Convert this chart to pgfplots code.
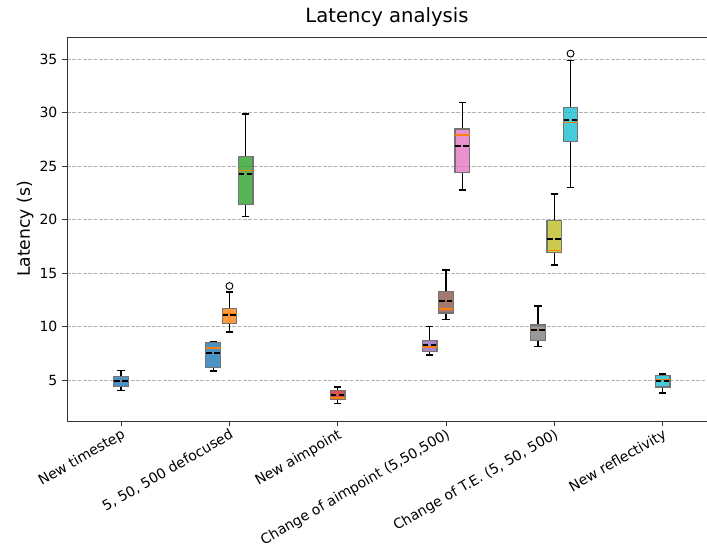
\documentclass[border=0pt]{standalone}
\usepackage{pgfplots}
\pgfplotsset{compat=1.18}
\usepgfplotslibrary{statistics}
\usepackage{fontspec}
\setmainfont{DejaVu Sans}
\definecolor{tBlue}{HTML}{1F77B4}
\definecolor{tOrange}{HTML}{FF7F0E}
\definecolor{tGreen}{HTML}{2CA02C}
\definecolor{tRed}{HTML}{D62728}
\definecolor{tPurple}{HTML}{9467BD}
\definecolor{tBrown}{HTML}{8C564B}
\definecolor{tPink}{HTML}{E377C2}
\definecolor{tGray}{HTML}{7F7F7F}
\definecolor{tOlive}{HTML}{BCBD22}
\definecolor{tCyan}{HTML}{17BECF}
\pgfplotsset{
  bx/.style={
    solid, draw=black!55, line width=0.9pt, fill=#1, fill opacity=0.8,
    mark=o, mark size=2.6pt, mark options={draw=black, fill=none, line width=0.7pt, solid, fill opacity=1},
    boxplot/draw direction=y,
    boxplot/box extend=0.135,
    boxplot/whisker extend=0.068,
    boxplot/every whisker/.style={draw=black, line width=1pt, solid},
    boxplot/every median/.style={draw=tOrange, line width=1.1pt, solid},
    boxplot/draw/average/.code={\draw[draw=black, line width=1.5pt, dash pattern=on 4.1pt off 1.8pt, draw opacity=1]
        (boxplot box cs:\pgfplotsboxplotvalue{average},0.03) -- (boxplot box cs:\pgfplotsboxplotvalue{average},0.97);},
  },
}
\begin{document}
\begin{tikzpicture}
\begin{axis}[
  width=480pt, height=288pt, scale only axis,
  xmin=0.5, xmax=6.41, ymin=1.2, ymax=37.05,
  axis x line*=box, axis y line*=left,
  xtick pos=bottom, ytick pos=left,
  tick align=outside,
  major tick length=3.7pt,
  tick style={black!80, line width=0.6pt},
  axis line style={black!80, line width=0.6pt},
  xtick={1,2,3,4,5,6},
  xticklabels={New timestep, {5, 50, 500 defocused}, New aimpoint, {Change of aimpoint (5,50,500)}, {Change of T.E. (5, 50, 500)}, New reflectivity},
  ytick={5,10,15,20,25,30,35},
  /pgf/number format/assume math mode=true,
  ticklabel style={font=\fontsize{10.5}{12}\selectfont},
  xticklabel style={rotate=30, anchor=north east, inner sep=1pt},
  ymajorgrids,
  grid style={dash pattern=on 2.8pt off 1.2pt, gray!60, line width=0.6pt},
  title={Latency analysis},
  title style={font=\fontsize{14.7}{16}\selectfont, at={(axis description cs:0.5,1)}, anchor=base, yshift=5pt},
  ylabel={Latency (s)},
  every axis y label/.style={at={(axis description cs:-0.0656,0.5)}, rotate=90, anchor=center, font=\fontsize{12.9}{14}\selectfont},
]
% cat 1
\addplot[bx=tBlue, boxplot prepared={draw position=1, lower whisker=4.07, lower quartile=4.44, median=5.0, upper quartile=5.37, upper whisker=5.93, average=4.95}] coordinates {};
% cat 2
\addplot[bx=tBlue, boxplot prepared={draw position=1.85, lower whisker=5.87, lower quartile=6.19, median=8.02, upper quartile=8.52, upper whisker=8.64, average=7.55}] coordinates {};
\addplot[bx=tOrange, boxplot prepared={draw position=2, lower whisker=9.51, lower quartile=10.3, median=11.23, upper quartile=11.7, upper whisker=13.25, average=11.12}] table[row sep=\\, y index=0] {data\\ 13.8\\};
\addplot[bx=tGreen, boxplot prepared={draw position=2.15, lower whisker=20.3, lower quartile=21.38, median=24.6, upper quartile=25.93, upper whisker=29.85, average=24.28}] coordinates {};
% cat 3
\addplot[bx=tRed, boxplot prepared={draw position=3, lower whisker=2.82, lower quartile=3.2, median=3.35, upper quartile=4.07, upper whisker=4.37, average=3.6}] coordinates {};
% cat 4
\addplot[bx=tPurple, boxplot prepared={draw position=3.85, lower whisker=7.37, lower quartile=7.68, median=8.11, upper quartile=8.71, upper whisker=10.05, average=8.33}] coordinates {};
\addplot[bx=tBrown, boxplot prepared={draw position=4, lower whisker=10.67, lower quartile=11.29, median=11.67, upper quartile=13.3, upper whisker=15.3, average=12.41}] coordinates {};
\addplot[bx=tPink, boxplot prepared={draw position=4.15, lower whisker=22.76, lower quartile=24.37, median=27.9, upper quartile=28.46, upper whisker=30.92, average=26.87}] coordinates {};
% cat 5
\addplot[bx=tGray, boxplot prepared={draw position=4.85, lower whisker=8.18, lower quartile=8.71, median=9.74, upper quartile=10.17, upper whisker=11.94, average=9.67}] coordinates {};
\addplot[bx=tOlive, boxplot prepared={draw position=5, lower whisker=15.75, lower quartile=16.9, median=17.12, upper quartile=19.92, upper whisker=22.38, average=18.18}] coordinates {};
\addplot[bx=tCyan, boxplot prepared={draw position=5.15, lower whisker=22.97, lower quartile=27.27, median=29.05, upper quartile=30.49, upper whisker=34.88, average=29.3}] table[row sep=\\, y index=0] {data\\ 35.5\\};
% cat 6
\addplot[bx=tCyan, boxplot prepared={draw position=6, lower whisker=3.81, lower quartile=4.37, median=5.09, upper quartile=5.44, upper whisker=5.59, average=4.9}] coordinates {};
\end{axis}
\pgfresetboundingbox
\path[use as bounding box] (-50.25pt,-102.75pt) rectangle (480pt,315.75pt);
\end{tikzpicture}
\end{document}
